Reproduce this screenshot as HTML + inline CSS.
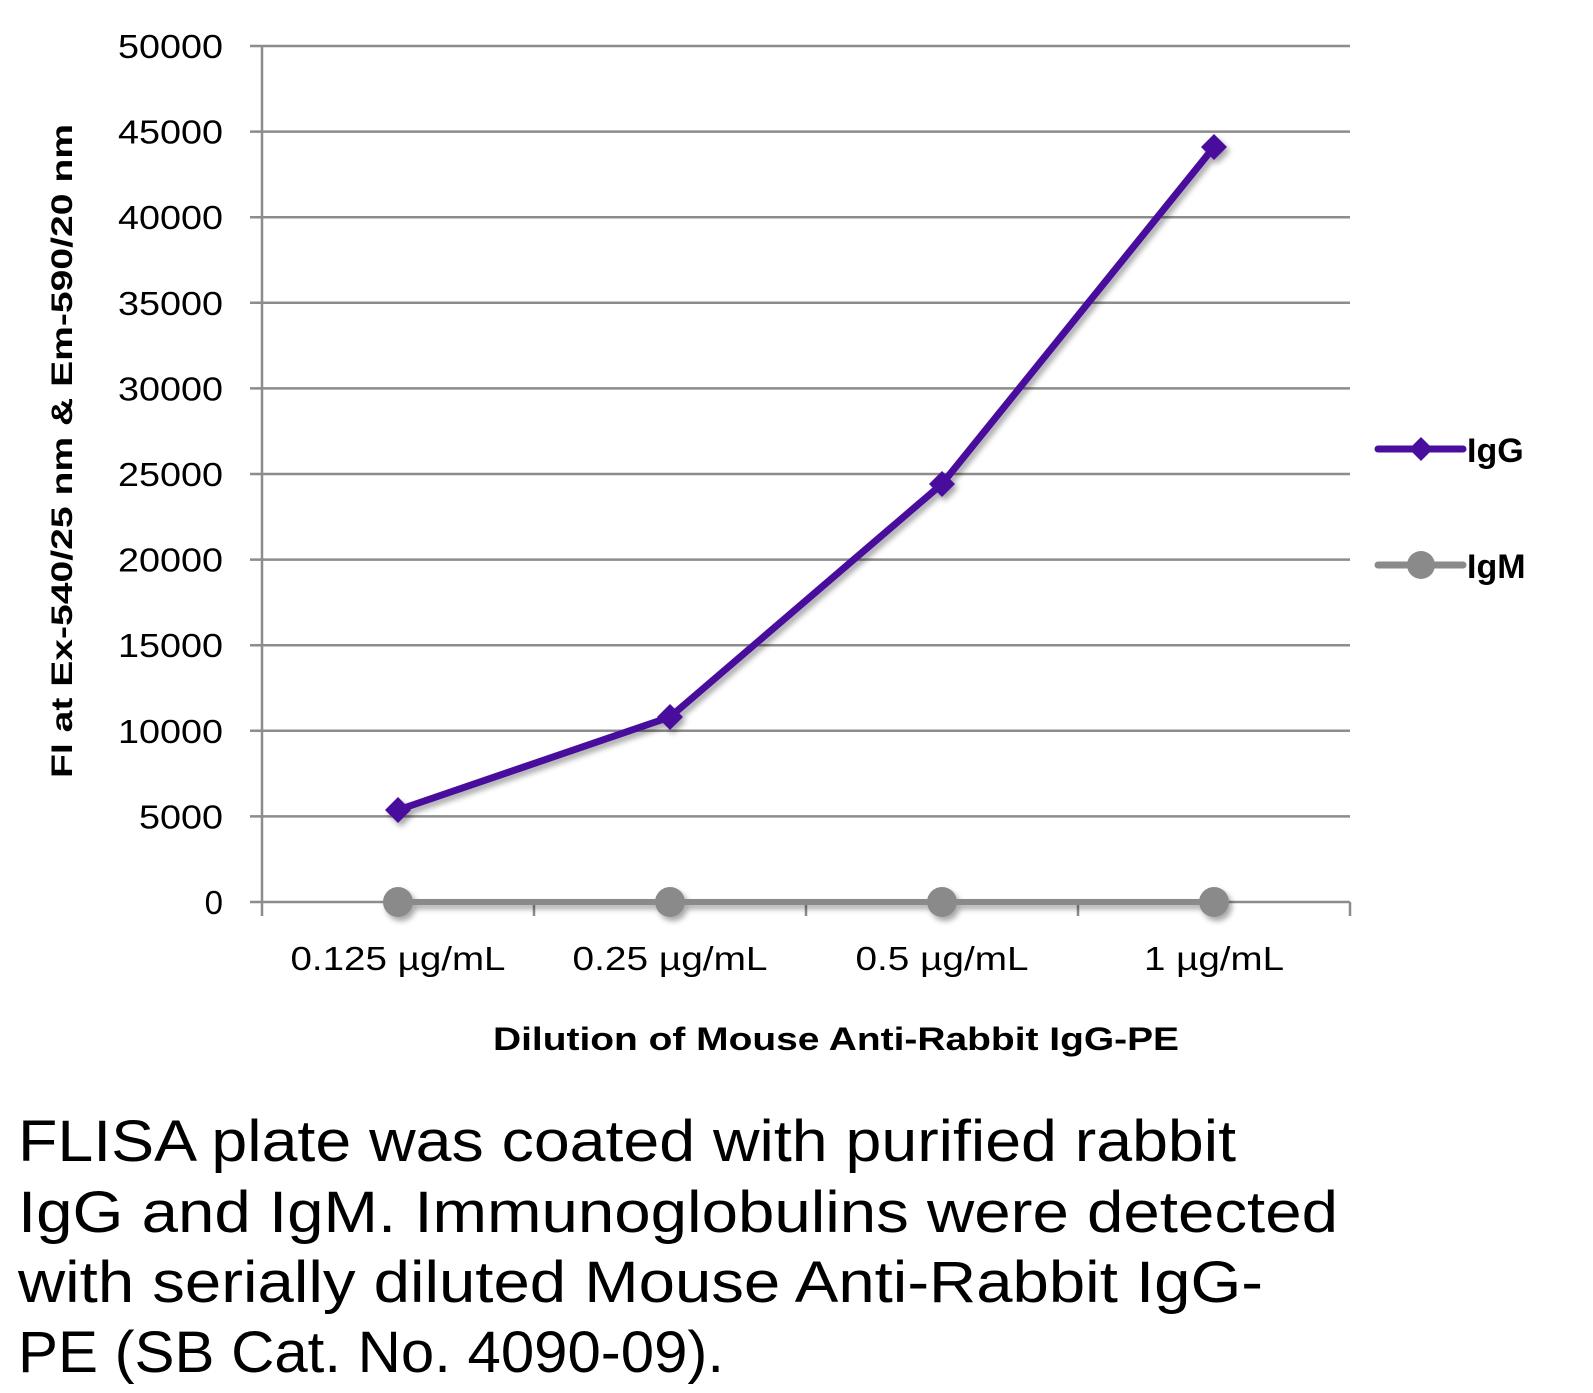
<!DOCTYPE html>
<html><head><meta charset="utf-8"><style>
html,body{margin:0;padding:0;background:#fff;}
svg{display:block;}
text{font-family:"Liberation Sans",sans-serif;fill:#000;}
</style></head><body>
<svg width="1593" height="1393" viewBox="0 0 1593 1393" xmlns="http://www.w3.org/2000/svg">
<defs>
<filter id="sh" x="-20%" y="-20%" width="140%" height="140%"><feGaussianBlur in="SourceAlpha" stdDeviation="3"/><feOffset dx="3" dy="4"/><feComponentTransfer><feFuncA type="linear" slope="0.35"/></feComponentTransfer><feMerge><feMergeNode/><feMergeNode in="SourceGraphic"/></feMerge></filter>
</defs>
<g stroke="#8c8c8c" stroke-width="2.5">
<line x1="250" y1="46" x2="1350" y2="46"/>
<line x1="250" y1="131.6" x2="1350" y2="131.6"/>
<line x1="250" y1="217.2" x2="1350" y2="217.2"/>
<line x1="250" y1="302.8" x2="1350" y2="302.8"/>
<line x1="250" y1="388.4" x2="1350" y2="388.4"/>
<line x1="250" y1="474" x2="1350" y2="474"/>
<line x1="250" y1="559.6" x2="1350" y2="559.6"/>
<line x1="250" y1="645.2" x2="1350" y2="645.2"/>
<line x1="250" y1="730.8" x2="1350" y2="730.8"/>
<line x1="250" y1="816.4" x2="1350" y2="816.4"/>
<line x1="250" y1="902" x2="1350" y2="902"/>
<line x1="262" y1="46" x2="262" y2="916"/>
<line x1="534" y1="902" x2="534" y2="916"/>
<line x1="806" y1="902" x2="806" y2="916"/>
<line x1="1078" y1="902" x2="1078" y2="916"/>
<line x1="1350" y1="902" x2="1350" y2="916"/>
</g>
<g font-size="33" text-anchor="end">
<text x="223" y="58" textLength="105" lengthAdjust="spacingAndGlyphs">50000</text>
<text x="223" y="143.6" textLength="105" lengthAdjust="spacingAndGlyphs">45000</text>
<text x="223" y="229.2" textLength="105" lengthAdjust="spacingAndGlyphs">40000</text>
<text x="223" y="314.8" textLength="105" lengthAdjust="spacingAndGlyphs">35000</text>
<text x="223" y="400.4" textLength="105" lengthAdjust="spacingAndGlyphs">30000</text>
<text x="223" y="486" textLength="105" lengthAdjust="spacingAndGlyphs">25000</text>
<text x="223" y="571.6" textLength="105" lengthAdjust="spacingAndGlyphs">20000</text>
<text x="223" y="657.2" textLength="105" lengthAdjust="spacingAndGlyphs">15000</text>
<text x="223" y="742.8" textLength="105" lengthAdjust="spacingAndGlyphs">10000</text>
<text x="223" y="828.4" textLength="84" lengthAdjust="spacingAndGlyphs">5000</text>
<text x="223" y="914">0</text>
</g>
<text transform="translate(72,451) rotate(-90)" font-size="30" font-weight="bold" text-anchor="middle" textLength="654" lengthAdjust="spacingAndGlyphs">FI at Ex-540/25 nm &amp; Em-590/20 nm</text>
<g font-size="33" text-anchor="middle">
<text x="398" y="970" textLength="215" lengthAdjust="spacingAndGlyphs">0.125 µg/mL</text>
<text x="670" y="970" textLength="195" lengthAdjust="spacingAndGlyphs">0.25 µg/mL</text>
<text x="942" y="970" textLength="173" lengthAdjust="spacingAndGlyphs">0.5 µg/mL</text>
<text x="1214" y="970" textLength="140" lengthAdjust="spacingAndGlyphs">1 µg/mL</text>
</g>
<text x="836" y="1050" font-size="32" font-weight="bold" text-anchor="middle" textLength="686" lengthAdjust="spacingAndGlyphs">Dilution of Mouse Anti-Rabbit IgG-PE</text>
<g filter="url(#sh)">
<polyline points="398,902 670,902 942,902 1214,902" fill="none" stroke="#8a8a8a" stroke-width="6"/>
<circle cx="398" cy="902" r="15" fill="#8a8a8a"/>
<circle cx="670" cy="902" r="15" fill="#8a8a8a"/>
<circle cx="942" cy="902" r="15" fill="#8a8a8a"/>
<circle cx="1214" cy="902" r="15" fill="#8a8a8a"/>
<polyline points="398,810 670,717 942,484 1214,147" fill="none" stroke="#4a0e9e" stroke-width="7" stroke-linejoin="round"/>
<path d="M398,797 L411,810 L398,823 L385,810Z M670,704 L683,717 L670,730 L657,717Z M942,471 L955,484 L942,497 L929,484Z M1214,134 L1227,147 L1214,160 L1201,147Z" fill="#4a0e9e"/>
</g>
<line x1="1378" y1="449" x2="1463" y2="449" stroke="#4a0e9e" stroke-width="7" stroke-linecap="round"/>
<path d="M1421,437 L1433,449 L1421,461 L1409,449Z" fill="#4a0e9e"/>
<text x="1467" y="462" font-size="34" font-weight="bold">IgG</text>
<line x1="1378" y1="565" x2="1463" y2="565" stroke="#8a8a8a" stroke-width="7" stroke-linecap="round"/>
<circle cx="1421" cy="565" r="14" fill="#8a8a8a"/>
<text x="1467" y="578" font-size="34" font-weight="bold">IgM</text>
<g font-size="58">
<text x="18" y="1161" textLength="1218" lengthAdjust="spacingAndGlyphs">FLISA plate was coated with purified rabbit</text>
<text x="18" y="1232" textLength="1320" lengthAdjust="spacingAndGlyphs">IgG and IgM.  Immunoglobulins were detected</text>
<text x="18" y="1302" textLength="1245" lengthAdjust="spacingAndGlyphs">with serially diluted Mouse Anti-Rabbit IgG-</text>
<text x="18" y="1372" textLength="706" lengthAdjust="spacingAndGlyphs">PE (SB Cat. No. 4090-09).</text>
</g>
</svg>
</body></html>
